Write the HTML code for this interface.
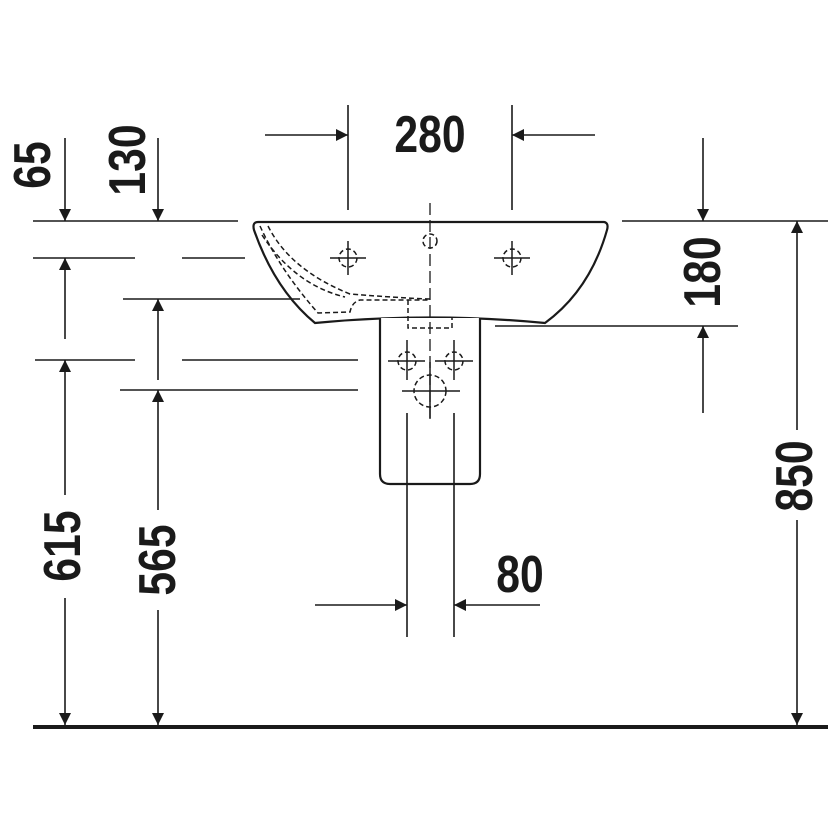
<!DOCTYPE html>
<html><head><style>body{margin:0;background:#fff}svg{display:block}</style></head><body>
<svg width="834" height="834" viewBox="0 0 834 834" xmlns="http://www.w3.org/2000/svg">
<defs>
<marker id="a" viewBox="0 0 10 10" refX="10" refY="5" markerWidth="12" markerHeight="12" markerUnits="userSpaceOnUse" orient="auto"><path d="M0,0 L10,5 L0,10 z" fill="#1a1a1a"/></marker>
</defs>
<!-- basin -->
<g stroke="#1a1a1a" stroke-width="2.2" fill="#fff">
<path d="M258,222 L604,222 Q609,223 607,230 Q590,290 545,323 Q430,312 315,323 Q275,290 254,230 Q252,222 258,222 Z"/>
<path d="M380,318 L380,474 Q380,484 390,484 L470,484 Q480,484 480,474 L480,318"/>
</g>
<g stroke="#1a1a1a" stroke-width="1.6" fill="none">
<line x1="348" y1="105" x2="348" y2="210"/>
<line x1="512" y1="105" x2="512" y2="210"/>
<line x1="33" y1="221" x2="238" y2="221"/>
<line x1="622" y1="221" x2="828" y2="221"/>
<line x1="33" y1="258" x2="135" y2="258"/>
<line x1="182" y1="258" x2="245" y2="258"/>
<line x1="123" y1="299" x2="300" y2="299"/>
<line x1="35" y1="360" x2="135" y2="360"/>
<line x1="182" y1="360" x2="358" y2="360"/>
<line x1="120" y1="390" x2="358" y2="390"/>
<line x1="495" y1="326" x2="738" y2="326"/>
<line x1="407" y1="413" x2="407" y2="637"/>
<line x1="454" y1="413" x2="454" y2="637"/>
<line x1="265" y1="135" x2="348" y2="135" marker-end="url(#a)"/>
<line x1="595" y1="135" x2="512" y2="135" marker-end="url(#a)"/>
<line x1="65" y1="138" x2="65" y2="221" marker-end="url(#a)"/>
<line x1="158" y1="138" x2="158" y2="221" marker-end="url(#a)"/>
<line x1="65" y1="339" x2="65" y2="258" marker-end="url(#a)"/>
<line x1="158" y1="380" x2="158" y2="299" marker-end="url(#a)"/>
<line x1="65" y1="495" x2="65" y2="360" marker-end="url(#a)"/>
<line x1="65" y1="598" x2="65" y2="725" marker-end="url(#a)"/>
<line x1="158" y1="510" x2="158" y2="390" marker-end="url(#a)"/>
<line x1="158" y1="610" x2="158" y2="725" marker-end="url(#a)"/>
<line x1="703" y1="138" x2="703" y2="221" marker-end="url(#a)"/>
<line x1="703" y1="413" x2="703" y2="326" marker-end="url(#a)"/>
<line x1="797" y1="430" x2="797" y2="221" marker-end="url(#a)"/>
<line x1="797" y1="520" x2="797" y2="725" marker-end="url(#a)"/>
<line x1="315" y1="605" x2="407" y2="605" marker-end="url(#a)"/>
<line x1="540" y1="605" x2="454" y2="605" marker-end="url(#a)"/>
<line x1="430" y1="203" x2="430" y2="420" stroke-dasharray="12,5" stroke-width="1.3"/>
</g>
<line x1="33" y1="727" x2="828" y2="727" stroke="#1a1a1a" stroke-width="4"/>
<g stroke="#1a1a1a" stroke-width="1.5" fill="none" stroke-dasharray="5,3">
<path d="M260,226 Q280,270 318,313 L350,312 Q352,302 360,300 L430,300"/>
<path d="M268,226 Q290,270 350,294 Q400,298 430,299"/>
<path d="M262,235 Q295,285 345,297"/>
<path d="M408,300 L408,328 L452,328 L452,318"/>
<circle cx="430" cy="241" r="7"/>
<circle cx="348" cy="258" r="9"/>
<circle cx="512" cy="258" r="9"/>
<circle cx="407" cy="361" r="9"/>
<circle cx="454" cy="361" r="9"/>
<circle cx="430" cy="391" r="16"/>
</g>
<g stroke="#1a1a1a" stroke-width="1.5">
<line x1="330" y1="258" x2="366" y2="258"/><line x1="348" y1="241" x2="348" y2="275"/>
<line x1="494" y1="258" x2="530" y2="258"/><line x1="512" y1="241" x2="512" y2="275"/>
<line x1="388" y1="361" x2="425" y2="361"/><line x1="407" y1="340" x2="407" y2="380"/>
<line x1="435" y1="361" x2="473" y2="361"/><line x1="454" y1="340" x2="454" y2="380"/>
<line x1="402" y1="391" x2="460" y2="391"/><line x1="430" y1="362" x2="430" y2="418"/>
</g>
<g font-family="Liberation Sans, sans-serif" font-weight="bold" font-size="52" fill="#1a1a1a" text-anchor="middle">
<text transform="translate(430,152) scale(0.82,1)">280</text>
<text transform="translate(520,592) scale(0.82,1)">80</text>
<text transform="translate(50,165) rotate(-90) scale(0.82,1)">65</text>
<text transform="translate(145,160) rotate(-90) scale(0.82,1)">130</text>
<text transform="translate(720,272) rotate(-90) scale(0.82,1)">180</text>
<text transform="translate(80,546) rotate(-90) scale(0.82,1)">615</text>
<text transform="translate(175,560) rotate(-90) scale(0.82,1)">565</text>
<text transform="translate(812,476) rotate(-90) scale(0.82,1)">850</text>
</g>
</svg>
</body></html>
